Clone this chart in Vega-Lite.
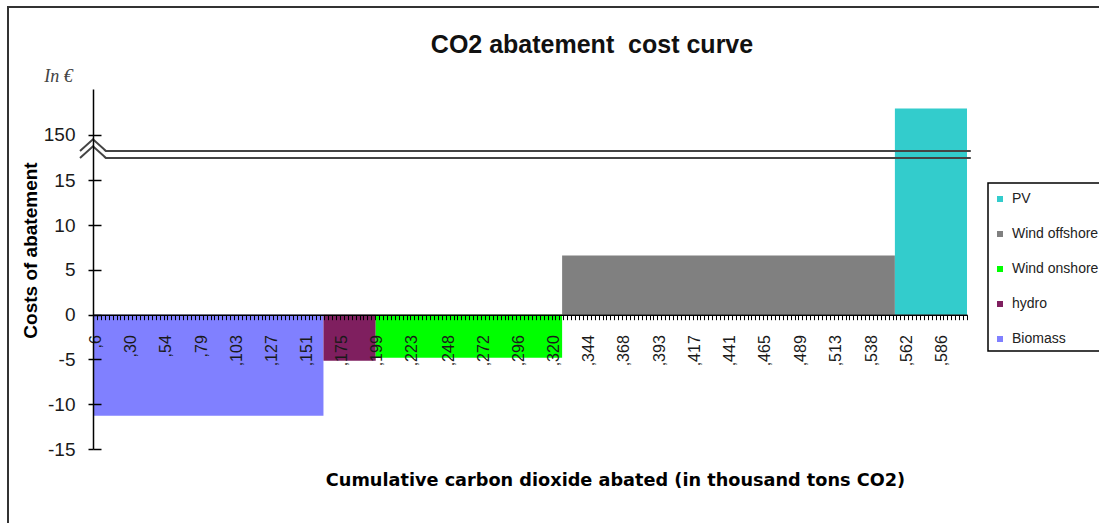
{
  "$schema": "https://vega.github.io/schema/vega-lite/v6.json",
  "width": 1100,
  "height": 530,
  "autosize": "none",
  "padding": {"left": 8, "top": 7, "right": 0, "bottom": 0},
  "background": "white",
  "title": {
    "text": "CO2 abatement\u00a0 cost curve",
    "orient": "top",
    "anchor": "middle",
    "frame": "group",
    "offset": 0,
    "dx": 34,
    "dy": 71,
    "baseline": "alphabetic",
    "font": "Liberation Sans",
    "fontSize": 25,
    "fontWeight": "bold",
    "color": "#111"
  },
  "datasets": {
    "measures": [
      {"source": "Biomass", "start": 4.6, "end": 162.5, "cost": -11.3},
      {"source": "hydro", "start": 162.5, "end": 198.3, "cost": -5.15},
      {"source": "Wind onshore", "start": 198.3, "end": 326, "cost": -4.8},
      {"source": "Wind offshore", "start": 326, "end": 554, "cost": 6.6},
      {"source": "PV", "start": 554, "end": 603.4, "cost": 154}
    ],
    "breaks": [{"bound": 17.5}, {"bound": 147.5}]
  },
  "layer": [
    {
      "data": {"name": "measures"},
      "mark": {"type": "rect"},
      "encoding": {
        "x": {
          "field": "start",
          "type": "quantitative",
          "scale": {"domain": [4.6, 603.4], "range": [85, 959], "nice": false, "zero": false},
          "axis": {
            "orient": "bottom",
            "offset": -222.3,
            "values": [6, 30, 54, 79, 103, 127, 151, 175, 199, 223, 248, 272, 296, 320, 344, 368, 393, 417, 441, 465, 489, 513, 538, 562, 586],
            "labelExpr": "',' + datum.value",
            "labelAngle": 270,
            "labelFont": "Liberation Sans",
            "labelFontSize": 16,
            "labelColor": "#1a1a1a",
            "labelPadding": 20,
            "labelOverlap": false,
            "labelFlush": false,
            "ticks": false,
            "domainColor": "#000",
            "domainWidth": 1.5,
            "grid": false,
            "zindex": 1,
            "title": "Cumulative carbon dioxide abated (in thousand tons CO2)",
            "titleX": 607,
            "titleY": 166,
            "titleAlign": "center",
            "titleBaseline": "middle",
            "titleFont": "DejaVu Sans",
            "titleFontSize": 17.7,
            "titleFontWeight": "bold",
            "titleColor": "#000"
          }
        },
        "x2": {"field": "end"},
        "y": {
          "field": "cost",
          "type": "quantitative",
          "scale": {"domain": [-15, 17.5, 147.5, 157], "range": [442, 151, 144, 82], "nice": false, "zero": false},
          "axis": {
            "orient": "left",
            "offset": -85,
            "values": [-15, -10, -5, 0, 5, 10, 15, 150],
            "labelExpr": "'' + datum.value",
            "tickSize": 5,
            "tickWidth": 1.5,
            "tickColor": "#000",
            "domainColor": "#000",
            "domainWidth": 1.5,
            "labelFont": "Liberation Sans",
            "labelFontSize": 19,
            "labelColor": "#1a1a1a",
            "labelPadding": 13,
            "labelOverlap": false,
            "grid": false,
            "zindex": 1,
            "title": "Costs of abatement",
            "titleFont": "Liberation Sans",
            "titleFontSize": 19,
            "titleFontWeight": "bold",
            "titleColor": "#000",
            "titleAngle": 270,
            "titleX": -63,
            "titleY": 243,
            "titleAlign": "center",
            "titleBaseline": "middle"
          }
        },
        "y2": {"datum": 0},
        "color": {
          "field": "source",
          "type": "nominal",
          "scale": {
            "domain": ["PV", "Wind offshore", "Wind onshore", "hydro", "Biomass"],
            "range": ["#33cccc", "#808080", "#00ff00", "#7f1f5f", "#8080ff"]
          },
          "legend": {
            "orient": "none",
            "legendX": 980,
            "legendY": 176,
            "title": " ",
            "titleFontSize": 4,
            "titlePadding": 0,
            "symbolType": "square",
            "symbolSize": 36,
            "symbolStrokeWidth": 0,
            "labelFont": "Liberation Sans",
            "labelFontSize": 14,
            "labelColor": "#222",
            "labelOffset": 5,
            "strokeColor": "#000",
            "padding": 5,
            "rowPadding": 21
          }
        }
      }
    },
    {
      "data": {"name": "breaks"},
      "mark": {"type": "rule", "color": "#444", "strokeWidth": 2},
      "encoding": {
        "x": {"datum": 4.6, "type": "quantitative", "scale": {"domain": [4.6, 603.4], "range": [85, 959], "nice": false, "zero": false}, "axis": null},
        "x2": {"datum": 606},
        "y": {"field": "bound", "type": "quantitative", "axis": null}
      }
    },
    {
      "data": {"name": "breaks"},
      "mark": {"type": "point", "shape": "M-1,0.12L0,-0.9L1,0.12Z", "filled": true, "fill": "white", "strokeWidth": 0, "opacity": 1, "size": 676},
      "encoding": {
        "x": {"datum": 0, "type": "quantitative", "scale": {"domain": [0, 223], "range": [85, 959], "nice": false, "zero": false}, "axis": null},
        "y": {"field": "bound", "type": "quantitative", "axis": null}
      }
    },
    {
      "data": {"name": "breaks"},
      "mark": {"type": "point", "shape": "M-1,0L0,-0.9L1,0", "filled": false, "stroke": "#444", "strokeWidth": 2, "opacity": 1, "size": 676},
      "encoding": {
        "x": {
          "datum": 0,
          "type": "quantitative",
          "scale": {"domain": [0, 223], "range": [85, 959], "nice": false, "zero": false},
          "axis": {
            "orient": "bottom",
            "offset": -222.3,
            "tickCount": 223,
            "labels": false,
            "domain": false,
            "ticks": true,
            "tickSize": 5,
            "tickColor": "#000",
            "tickWidth": 1,
            "grid": false,
            "title": null,
            "zindex": 1
          }
        },
        "y": {
          "field": "bound",
          "type": "quantitative",
          "axis": {
            "orient": "left",
            "offset": -85,
            "values": [-15, -10, -5, 0, 5, 10, 15, 150],
            "tickSize": -8,
            "tickWidth": 1.5,
            "tickColor": "#000",
            "labels": false,
            "domain": false,
            "grid": false,
            "zindex": 1,
            "title": "In €",
            "titleAngle": 0,
            "titleX": -35,
            "titleY": 69,
            "titleAlign": "center",
            "titleBaseline": "middle",
            "titleFont": "Liberation Serif",
            "titleFontStyle": "italic",
            "titleFontWeight": "normal",
            "titleFontSize": 18,
            "titleColor": "#444"
          }
        }
      }
    }
  ],
  "resolve": {"scale": {"x": "independent"}, "axis": {"x": "independent", "y": "independent"}},
  "config": {
    "view": {"stroke": "#333", "strokeWidth": 2},
    "axis": {"grid": false},
    "legend": {"strokeWidth": 1.5}
  }
}
